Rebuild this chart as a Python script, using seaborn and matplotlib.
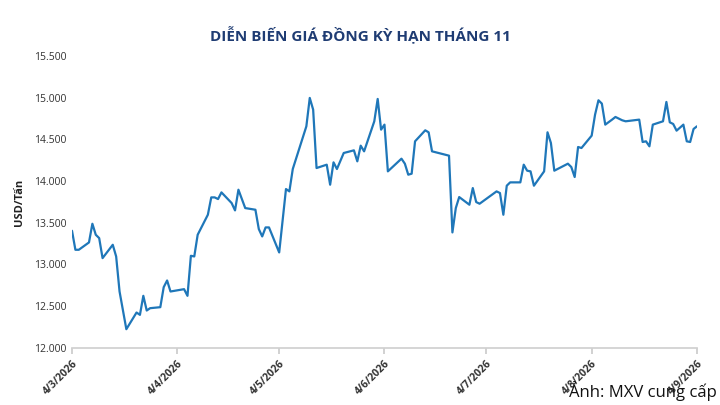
import matplotlib
matplotlib.use("Agg")
import matplotlib.pyplot as plt
import seaborn as sns
import pandas as pd

start_date = "2026-03-04"
day_offsets = [0,1,2,5,6,7,8,9,12,13,14,16,19,20,21,22,23,26,27,28,29,33,34,35,36,37,40,41,42,43,44,47,48,49,51,54,55,56,57,58,61,63,64,65,69,70,71,72,75,76,77,78,80,83,84,85,86,89,90,91,92,93,97,98,99,100,101,104,105,106,111,112,113,114,117,118,119,120,125,126,127,128,129,132,133,134,135,136,139,140,141,142,146,147,148,149,150,153,154,155,156,157,159,160,162,163,167,168,169,170,171,174,175,176,177,178,180,181,182,183,184]
prices = [13404,13176,13176,13264,13488,13356,13316,13076,13236,13096,12676,12224,12424,12396,12624,12448,12476,12488,12728,12808,12676,12704,12624,13104,13096,13356,13596,13804,13804,13784,13864,13736,13648,13896,13676,13656,13424,13336,13444,13444,13144,13904,13876,14144,14656,14996,14856,14156,14196,13956,14224,14144,14336,14368,14236,14424,14356,14716,14984,14616,14676,14116,14268,14208,14076,14088,14476,14608,14584,14356,14304,13384,13676,13808,13716,13916,13748,13728,13876,13856,13596,13944,13984,13984,14196,14124,14116,13944,14116,14584,14456,14124,14208,14168,14048,14408,14396,14544,14796,14968,14928,14676,14736,14768,14728,14716,14736,14468,14476,14416,14676,14716,14948,14704,14684,14604,14676,14476,14468,14624,14656]
tick_dates = ["2026-03-04","2026-04-04","2026-05-04","2026-06-04","2026-07-04","2026-08-04","2026-09-04"]
tick_labels = ["4/3/2026","4/4/2026","4/5/2026","4/6/2026","4/7/2026","4/8/2026","4/9/2026"]
y_ticks = [12000,12500,13000,13500,14000,14500,15000,15500]
y_labels = ["12.000","12.500","13.000","13.500","14.000","14.500","15.000","15.500"]

df = pd.DataFrame({"date": pd.Timestamp(start_date) + pd.to_timedelta(day_offsets, unit="D"), "price": prices})

sns.set_theme(style="white")
plt.rcParams['font.family'] = ['Open Sans', 'DejaVu Sans']
fig = plt.figure(figsize=(7.2, 4.05), dpi=100)
ax = fig.add_axes([0.1, 0.141, 0.868, 0.721])
sns.lineplot(data=df, x="date", y="price", ax=ax, color="#1f77b9", linewidth=1.6)
ax.set_xlim(pd.Timestamp(tick_dates[0]), pd.Timestamp(tick_dates[-1]))
ax.set_ylim(12000, 15500)
ax.set_xticks([pd.Timestamp(d) for d in tick_dates])
ax.set_xticklabels(tick_labels, rotation=45, ha="right", rotation_mode="anchor", fontsize=7.5, fontweight="bold", color="#333333")
ax.set_yticks(y_ticks)
ax.set_yticklabels(y_labels, fontsize=7.5, color="#333333")
ax.tick_params(axis="y", length=0, pad=4)
ax.tick_params(axis="x", length=4, color="#cccccc", bottom=True)
for s in ["top", "right", "left"]:
    ax.spines[s].set_visible(False)
ax.spines["bottom"].set_color("#d0d0d0")
ax.set_xlabel("")
ax.set_ylabel("USD/Tấn", fontsize=8, fontweight="bold", color="#222222")
ax.yaxis.set_label_coords(-0.075, 0.5)
fig.text(0.5, 0.915, "DIỄN BIẾN GIÁ ĐỒNG KỲ HẠN THÁNG 11", ha="center", va="center", fontsize=11, fontweight="bold", color="#1f3c73")
fig.text(0.995, 0.01, "Ảnh: MXV cung cấp", ha="right", va="bottom", fontsize=12, color="#111111")
fig.savefig("out.png", dpi=100)
